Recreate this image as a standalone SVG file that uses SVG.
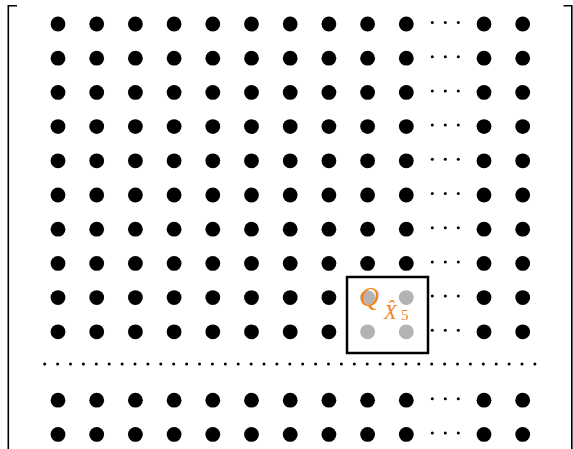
<svg xmlns="http://www.w3.org/2000/svg" width="573" height="449" viewBox="0 0 573 449">
<style>
.d{fill:#000}
.g{fill:#b3b3b3}
.br{fill:none;stroke:#000;stroke-width:1.6}
.lbl{font-family:"Liberation Serif","DejaVu Serif",serif;font-style:italic;fill:#f28522}
.num{font-family:"Liberation Serif","DejaVu Serif",serif;fill:#f28522}
</style>
<defs>
<circle id="dot" r="7.4"/>
<circle id="sd" r="1.5"/>
<g id="row">
<use href="#dot" x="58"/><use href="#dot" x="96.7"/><use href="#dot" x="135.4"/><use href="#dot" x="174.1"/><use href="#dot" x="212.8"/><use href="#dot" x="251.5"/><use href="#dot" x="290.2"/><use href="#dot" x="328.9"/><use href="#dot" x="367.6"/><use href="#dot" x="406.3"/>
<use href="#sd" x="432.3" y="-1.5"/><use href="#sd" x="445.3" y="-1.5"/><use href="#sd" x="458.3" y="-1.5"/>
<use href="#dot" x="484"/><use href="#dot" x="522.7"/>
</g>
<g id="rowL">
<use href="#dot" x="58"/><use href="#dot" x="96.7"/><use href="#dot" x="135.4"/><use href="#dot" x="174.1"/><use href="#dot" x="212.8"/><use href="#dot" x="251.5"/><use href="#dot" x="290.2"/><use href="#dot" x="328.9"/>
<use href="#sd" x="432.3" y="-1.5"/><use href="#sd" x="445.3" y="-1.5"/><use href="#sd" x="458.3" y="-1.5"/>
<use href="#dot" x="484"/><use href="#dot" x="522.7"/>
</g>
</defs>
<rect width="573" height="449" fill="#fff"/>
<g id="brackets">
<path class="br" d="M17,5.8 H8.3 V449"/>
<path class="br" d="M563.5,5.8 H571.8 V449"/>
</g>
<g id="matrix">
<use href="#row" y="24"/>
<use href="#row" y="58.2"/>
<use href="#row" y="92.4"/>
<use href="#row" y="126.6"/>
<use href="#row" y="160.8"/>
<use href="#row" y="195"/>
<use href="#row" y="229.2"/>
<use href="#row" y="263.4"/>
<use href="#rowL" y="297.6"/>
<use href="#rowL" y="331.8"/>
<g id="vdots-line">
<use href="#sd" x="44.7" y="364"/><use href="#sd" x="57.6" y="364"/><use href="#sd" x="70.5" y="364"/><use href="#sd" x="83.4" y="364"/><use href="#sd" x="96.3" y="364"/><use href="#sd" x="109.2" y="364"/><use href="#sd" x="122.1" y="364"/><use href="#sd" x="135" y="364"/><use href="#sd" x="147.9" y="364"/><use href="#sd" x="160.8" y="364"/><use href="#sd" x="173.7" y="364"/><use href="#sd" x="186.6" y="364"/><use href="#sd" x="199.5" y="364"/><use href="#sd" x="212.4" y="364"/><use href="#sd" x="225.3" y="364"/><use href="#sd" x="238.2" y="364"/><use href="#sd" x="251.1" y="364"/><use href="#sd" x="264" y="364"/><use href="#sd" x="276.9" y="364"/><use href="#sd" x="289.8" y="364"/><use href="#sd" x="302.7" y="364"/><use href="#sd" x="315.6" y="364"/><use href="#sd" x="328.5" y="364"/><use href="#sd" x="341.4" y="364"/><use href="#sd" x="354.3" y="364"/><use href="#sd" x="367.2" y="364"/><use href="#sd" x="380.1" y="364"/><use href="#sd" x="393" y="364"/><use href="#sd" x="405.9" y="364"/><use href="#sd" x="418.8" y="364"/><use href="#sd" x="431.7" y="364"/><use href="#sd" x="444.6" y="364"/><use href="#sd" x="457.5" y="364"/><use href="#sd" x="470.4" y="364"/><use href="#sd" x="483.3" y="364"/><use href="#sd" x="496.2" y="364"/><use href="#sd" x="509.1" y="364"/><use href="#sd" x="522" y="364"/><use href="#sd" x="534.9" y="364"/>
</g>
<use href="#row" y="400.2"/>
<use href="#row" y="434.4"/>
</g>
<g id="block">
<g class="g">
<use href="#dot" x="367.6" y="297.6"/><use href="#dot" x="406.3" y="297.6"/><use href="#dot" x="367.6" y="331.8"/><use href="#dot" x="406.3" y="331.8"/>
</g>
<rect x="347" y="277" width="81" height="76" fill="none" stroke="#000" stroke-width="2.5"/>
<text class="lbl" x="359.5" y="305.5" font-size="27">Q</text>
<text class="lbl" x="384" y="318.5" font-size="21">X&#770;</text>
<text class="num" x="401" y="320" font-size="15">5</text>
</g>
</svg>
